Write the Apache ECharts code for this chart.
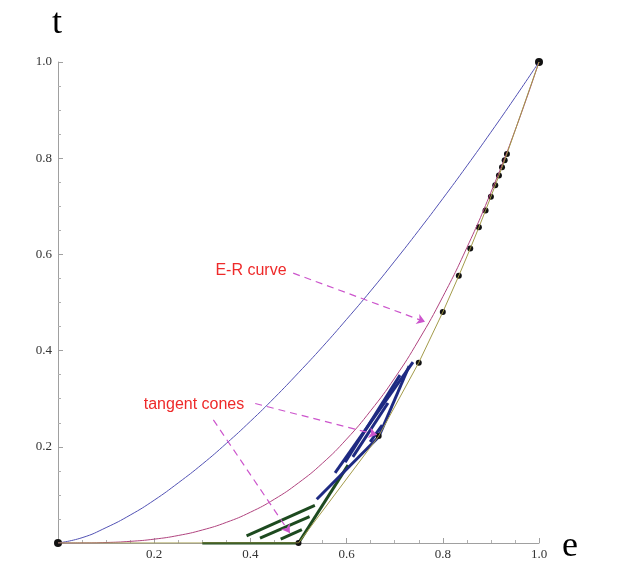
<!DOCTYPE html>
<html>
<head>
<meta charset="utf-8">
<script src="https://cdn.jsdelivr.net/npm/echarts@6/dist/echarts.min.js"></script>
<style>
html, body { margin: 0; padding: 0; background: #fff; }
#chart { width: 618px; height: 588px; }
</style>
</head>
<body>
<div id="chart"></div>
<script>
// curve samples
var eGrid = [0, 0.05, 0.1, 0.15, 0.2, 0.25, 0.3, 0.35, 0.4, 0.45, 0.5,
             0.55, 0.6, 0.65, 0.7, 0.75, 0.8, 0.85, 0.9, 0.95, 1];
var upperT = [0, 0.011, 0.032, 0.058, 0.089, 0.125, 0.164, 0.207, 0.253, 0.302, 0.354,
              0.408, 0.465, 0.524, 0.586, 0.65, 0.716, 0.784, 0.854, 0.926, 1];
var erT = [0, 0.0001, 0.001, 0.0034, 0.008, 0.0156, 0.027, 0.0429, 0.064, 0.0911, 0.125,
           0.166, 0.216, 0.275, 0.343, 0.422, 0.512, 0.614, 0.729, 0.857, 1];

// lower boundary, with its corner points
var lowE = [0, 0.5, 0.6667, 0.75, 0.8, 0.8333, 0.8571, 0.875, 0.8889, 0.9,
            0.9091, 0.9167, 0.9231, 0.9286, 0.9333, 1];
var lowT = [0, 0, 0.2222, 0.375, 0.48, 0.5556, 0.6122, 0.6563, 0.6914, 0.72,
            0.7438, 0.7639, 0.7811, 0.7959, 0.8089, 1];

// tangent cone segments
var greenCone = [
    [[0.3, 0], [0.5, 0]],
    [[0.5, 0], [0.603, 0.162]],
    [[0.392, 0.015], [0.534, 0.078]],
    [[0.42, 0.01], [0.523, 0.055]],
    [[0.463, 0.008], [0.507, 0.028]]
];
var navyCone = [
    [[0.538, 0.091], [0.667, 0.221]],
    [[0.667, 0.221], [0.73, 0.368]],
    [[0.576, 0.146], [0.738, 0.376]],
    [[0.597, 0.168], [0.711, 0.349]],
    [[0.613, 0.179], [0.686, 0.291]],
    [[0.649, 0.21], [0.674, 0.245]]
];

// annotation arrows
var arrows = [
    [[0.489, 0.561], [0.763, 0.46]],
    [[0.41, 0.29], [0.663, 0.225]],
    [[0.323, 0.256], [0.482, 0.021]]
];

var chart = echarts.init(document.getElementById("chart"));

function pairs(xs, ys) {
    return xs.map(function (x, i) { return [x, ys[i]]; });
}
function segs(list) {
    return list.map(function (s) { return { coords: s }; });
}

var lowPts = pairs(lowE, lowT);
var serif = "'Liberation Serif', 'DejaVu Serif', serif";
var axisCommon = {
    type: "value",
    min: 0,
    max: 1,
    interval: 0.2,
    axisLine: { show: true, lineStyle: { color: "#a0a0a0", width: 1 } },
    axisTick: { show: true, inside: true, length: 5, lineStyle: { color: "#a0a0a0" } },
    minorTick: { show: true, splitNumber: 4, length: 3, lineStyle: { color: "#b0b0b0" } },
    splitLine: { show: false },
    axisLabel: {
        fontFamily: serif,
        fontSize: 13,
        color: "#333",
        formatter: function (v) { return v === 0 ? "" : v.toFixed(1); }
    }
};

var option = {
    animation: false,
    grid: { left: 58, right: 79, top: 62, bottom: 45 },
    xAxis: Object.assign({}, axisCommon, {
        axisLabel: Object.assign({}, axisCommon.axisLabel, { margin: 5 })
    }),
    yAxis: Object.assign({}, axisCommon, {
        axisLabel: Object.assign({}, axisCommon.axisLabel, { margin: 6 })
    }),
    graphic: [
        { type: "text", x: 57, y: 24, style: { text: "t", font: "36px " + serif, fill: "#000", align: "center", verticalAlign: "middle", textAlign: "center", textVerticalAlign: "middle" } },
        { type: "text", x: 570, y: 547, style: { text: "e", font: "36px " + serif, fill: "#000", align: "center", verticalAlign: "middle", textAlign: "center", textVerticalAlign: "middle" } },
        { type: "text", x: 251, y: 271, style: { text: "E-R curve", font: "16px 'Liberation Sans', Arial, sans-serif", fill: "#ee2a2a", align: "center", verticalAlign: "middle", textAlign: "center", textVerticalAlign: "middle" } },
        { type: "text", x: 194, y: 405, style: { text: "tangent cones", font: "16px 'Liberation Sans', Arial, sans-serif", fill: "#ee2a2a", align: "center", verticalAlign: "middle", textAlign: "center", textVerticalAlign: "middle" } }
    ],
    series: [
        {
            name: "upper",
            type: "line",
            data: pairs(eGrid, upperT),
            smooth: true,
            symbol: "none",
            lineStyle: { color: "#5252b4", width: 1 }
        },
        {
            name: "E-R",
            type: "line",
            data: pairs(eGrid, erT),
            smooth: true,
            symbol: "none",
            lineStyle: { color: "#b0447f", width: 1 },
            markLine: {
                silent: true,
                symbol: ["none", "arrow"],
                symbolSize: 8,
                label: { show: false },
                lineStyle: { color: "#cc55cc", type: [7, 5], width: 1.2 },
                data: arrows.map(function (a) {
                    return [{ coord: a[0] }, { coord: a[1] }];
                })
            }
        },
        {
            name: "lower",
            type: "line",
            data: lowPts,
            symbol: "none",
            lineStyle: { color: "#a39b4a", width: 1 }
        },
        {
            name: "cone1",
            type: "lines",
            coordinateSystem: "cartesian2d",
            data: segs(greenCone),
            lineStyle: { color: "#1d4a1f", width: 3, opacity: 1 }
        },
        {
            name: "cone2",
            type: "lines",
            coordinateSystem: "cartesian2d",
            data: segs(navyCone),
            lineStyle: { color: "#1e2a82", width: 3, opacity: 1 }
        },
        {
            name: "corners",
            type: "scatter",
            data: lowPts.slice(1, lowPts.length - 1),
            symbolSize: 6,
            itemStyle: { color: "#111", opacity: 1, borderWidth: 0 }
        },
        {
            name: "ends",
            type: "scatter",
            data: [lowPts[0], lowPts[lowPts.length - 1]],
            symbolSize: 8,
            itemStyle: { color: "#111", opacity: 1, borderWidth: 0 }
        }
    ]
};

chart.setOption(option);
</script>
</body>
</html>
